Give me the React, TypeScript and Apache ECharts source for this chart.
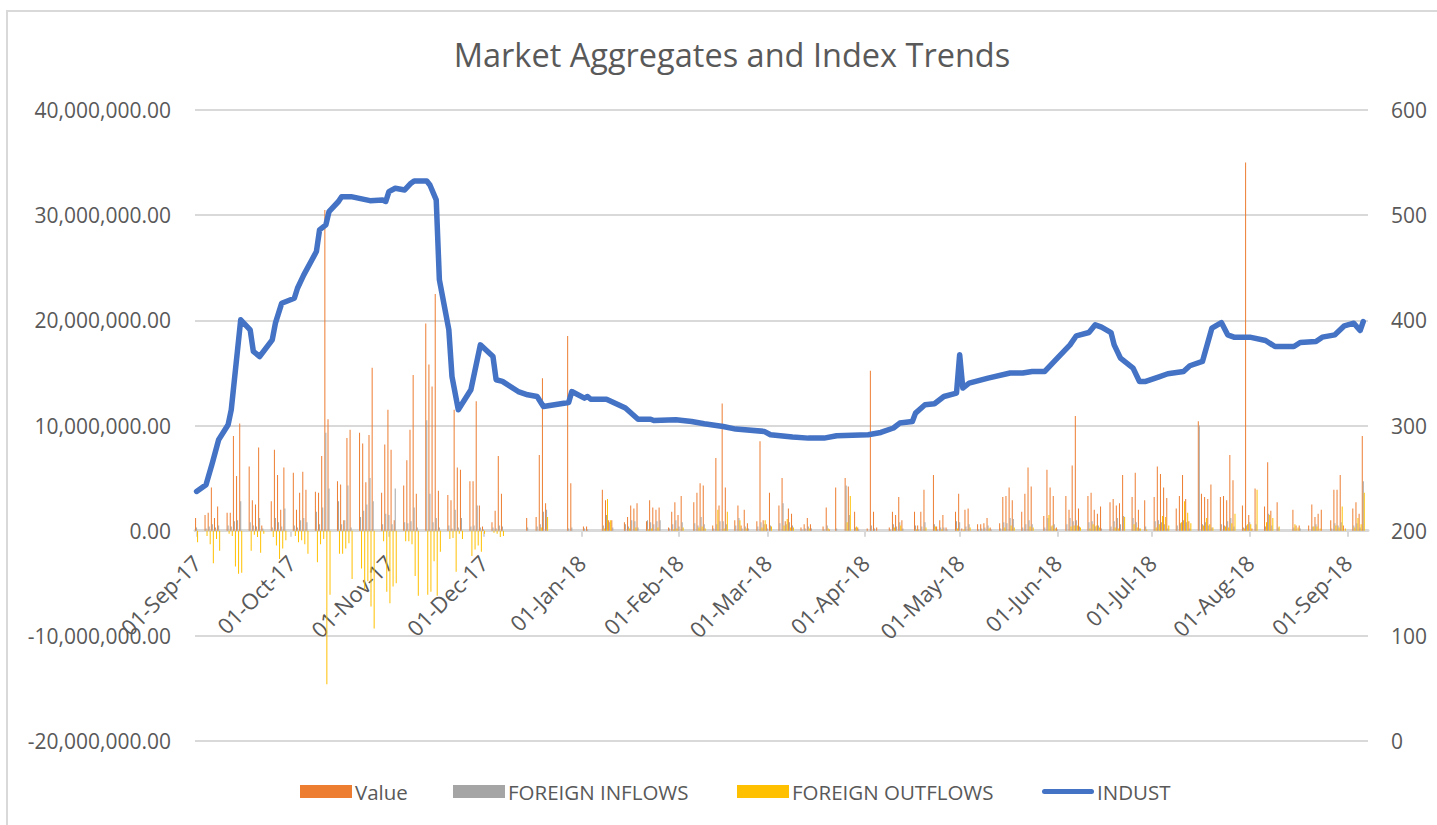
import React, { useEffect, useRef } from "react";
import * as echarts from "echarts";

const FONT = "'Open Sans', 'Noto Sans', sans-serif";
const TEXT = "#595959";
const GRID = "#D9D9D9";

const START = Date.UTC(2017, 8, 1);
const DAY_MS = 86400000;
const DAY_COUNT = 372; // 01-Sep-17 .. 07-Sep-18
const MON = ["Jan", "Feb", "Mar", "Apr", "May", "Jun", "Jul", "Aug", "Sep", "Oct", "Nov", "Dec"];

// Left axis ticks and right axis ticks
const leftTicks = [-20000000, -10000000, 0, 10000000, 20000000, 30000000, 40000000];
const rightTicks = [0, 100, 200, 300, 400, 500, 600];

// Legend entries
const legendNames = ["Value", "FOREIGN INFLOWS", "FOREIGN OUTFLOWS", "INDUST"];

// Bar values in millions, one entry per weekday of each month (Sep-17 .. Sep-18)
const valueByMonth: number[][] = [
  [1.2, 1.5, 1.7, 4.1, 1.2, 2.3, 1.7, 1.7, 9.0, 5.2, 10.2, 6.1, 2.9, 2.5, 7.9, 0.5, 2.8, 7.7, 5.3, 2.0, 6.0],
  [5.5, 2.0, 3.6, 5.6, 3.9, 3.7, 3.6, 7.1, 30.5, 10.6, 4.7, 4.4, 1.0, 8.8, 9.6, 9.3, 8.3, 4.6, 9.1, 15.5, 3.6, 8.2],
  [11.5, 7.7, 1.0, 4.3, 6.7, 9.6, 14.8, 3.5, 19.7, 15.8, 13.7, 22.5, 3.8, 3.4, 2.9, 11.5, 6.0, 5.8, 4.7, 4.7, 12.3, 2.4],
  [0.4, 0.8, 1.9, 7.1, 3.5, 0, 0, 0, 0, 0, 1.2, 1.3, 7.2, 14.5, 2.6, 0, 0, 0, 0, 18.5, 4.5],
  [0, 0.4, 0.4, 0, 0, 3.9, 2.9, 1.0, 1.0, 0, 0.8, 1.3, 2.4, 2.1, 2.6, 0.9, 2.9, 2.2, 2.0, 2.2, 0.3, 1.8, 2.7],
  [1.5, 3.3, 0, 2.7, 3.6, 4.5, 4.3, 0.5, 6.9, 2.4, 12.1, 4.1, 1.0, 2.4, 0.5, 2.0, 0.7, 0.9, 8.5, 1.0],
  [0.6, 3.6, 2.4, 5.0, 0.9, 2.1, 1.6, 0.3, 0.6, 1.2, 0.6, 0, 0.4, 2.2, 0.1, 0, 4.1, 5.0, 4.2, 0, 1.8, 0.3],
  [0.2, 15.2, 1.8, 0.3, 0, 0.3, 1.8, 1.5, 3.2, 1.0, 0, 1.8, 0.5, 1.8, 3.9, 5.3, 0.4, 1.0, 1.5, 0.3, 1.8],
  [3.5, 0.2, 2.0, 2.1, 0.6, 0.6, 0.7, 1.2, 0.3, 0.7, 3.2, 3.3, 4.1, 2.9, 1.8, 3.5, 6.0, 4.2, 0, 1.4, 5.8, 4.1, 3.3],
  [0.3, 3.3, 2.0, 6.2, 10.9, 2.1, 3.3, 3.6, 2.0, 1.6, 2.3, 2.7, 3.0, 2.4, 2.6, 5.3, 3.2, 5.5, 2.0, 0, 2.9],
  [3.2, 6.1, 5.4, 4.1, 3.1, 2.1, 3.3, 5.3, 3.0, 0.9, 10.4, 3.5, 3.2, 3.0, 4.4, 3.2, 3.3, 2.9, 7.2, 4.8, 2.4, 35.0],
  [1.5, 0.2, 4.0, 2.3, 6.5, 1.9, 0, 2.7, 0, 0, 2.0, 0.5, 0.5, 0.5, 2.5, 1.3, 1.6, 2.0, 1.0, 3.9, 3.9, 5.3, 0.5],
  [2.1, 2.7, 1.6, 9.0],
];

const inflowsByMonth: number[][] = [
  [0.3, 0.2, 0.4, 0.6, 0.3, 0.5, 0.5, 0.4, 0.9, 1.0, 2.8, 0.8, 0.5, 0.4, 1.2, 0.2, 0.3, 1.2, 0.8, 0.4, 2.1],
  [0.5, 0.3, 1.0, 1.2, 0.8, 1.8, 0.6, 2.2, 9.3, 4.0, 2.8, 0.6, 1.0, 4.3, 0.3, 1.3, 1.9, 2.5, 5.0, 2.8, 0.6, 1.6],
  [1.5, 0.6, 4.0, 0.8, 0.7, 0.9, 2.2, 0.3, 10.5, 3.5, 0.8, 1.2, 0.3, 0.5, 0.2, 2.0, 0.3, 1.2, 0.4, 0.5, 2.4, 0.3],
  [0.1, 0.3, 0.2, 0.5, 0.4, 0, 0, 0, 0, 0, 0.3, 0.4, 0.6, 1.8, 2.0, 0, 0, 0, 0, 0.2, 0.3],
  [0, 0.2, 0.1, 0, 0, 0.5, 1.5, 0.8, 0.3, 0, 0.6, 0.4, 1.0, 0.9, 0.3, 1.0, 0.8, 0.6, 0.9, 1.0, 0.2, 0.6, 1.0],
  [0.4, 0.8, 0, 0.7, 0.5, 1.3, 0.6, 0.2, 0.6, 0.9, 0.9, 0.6, 0.5, 1.2, 0.2, 0.4, 0.2, 0.4, 0.8, 0.6],
  [0.2, 0.5, 0.7, 2.6, 0.6, 0.8, 0.5, 0.1, 0.2, 0.4, 0.2, 0, 0.1, 0.5, 0, 0, 0.2, 4.3, 1.5, 0, 0.3, 0.1],
  [0, 0.5, 0.2, 0, 0, 0.1, 0.6, 0.4, 0.8, 0.2, 0, 0.5, 0.1, 0.4, 0.8, 0.6, 0.1, 0.3, 0.3, 0.1, 0.9],
  [0.8, 0, 0.4, 0.6, 0.1, 0.2, 0.3, 0.5, 0.1, 0.2, 0.8, 0.7, 1.2, 1.1, 0.3, 0.6, 1.0, 0.6, 0, 0.3, 1.2, 0.4, 0.6],
  [0.1, 0.6, 1.2, 0.9, 1.0, 0.4, 0.8, 0.9, 0.4, 0.5, 0.2, 0.4, 0.9, 1.2, 0.6, 1.4, 1.2, 0.8, 0.2, 0, 0.4],
  [0.9, 1.0, 0.8, 0.6, 0.2, 0.5, 0.7, 1.0, 0.8, 0.2, 10.0, 0.6, 0.8, 0.5, 0.3, 0.6, 0.5, 0.9, 1.2, 0.4, 0.3, 0.5],
  [0.8, 0, 0.6, 0.4, 1.6, 0.5, 0, 0.3, 0, 0, 0.3, 0, 0.2, 0, 0.4, 0.6, 0, 0, 0.2, 0.7, 0.5, 0.8, 0],
  [0.5, 0.7, 0.3, 4.7],
];

const outflowsByMonth: number[][] = [
  [-1.1, -0.5, -1.3, -3.1, -0.8, -1.9, -0.3, -0.5, -3.4, -4.1, -4.0, -1.9, -0.4, -0.6, -2.1, -0.3, -0.6, -1.4, -2.7, -1.7, -0.9],
  [-0.5, -1.1, -0.9, -1.3, -2.2, -3.0, -1.3, -0.8, -14.6, -6.1, -2.2, -2.2, -1.7, -1.2, -4.6, -3.6, -5.6, -4.8, -7.2, -9.3, -1.0, -5.8],
  [-6.9, -5.3, -5.0, -1.0, -1.0, -1.3, -4.3, -6.2, -6.1, -5.8, -2.9, -6.2, -2.0, -0.8, -0.7, -3.9, -0.3, -0.8, -2.4, -1.8, -1.4, -2.0],
  [-0.3, -0.2, -0.3, -0.6, -0.5, 0, 0, 0, 0, 0, 0, 0, 0.3, 0, 1.3, 0, 0, 0, 0, 0, 0],
  [0, 0, 0, 0, 0, 0.2, 3.0, 1.0, 0, 0, 0, 0.2, 0, 0.3, 0, 0.1, 0.2, 0, 0.3, 0, 0, 0.1, 0.2],
  [0, 0.3, 0, 0, 0.3, 0.4, 0.2, 0, 2.0, 0, 0.2, 1.8, 0, 1.0, 0, 0.2, 0, 0, 0.3, 1.0],
  [0, 0.4, 0, 0.5, 1.1, 0.3, 0.3, 0, 0, 0.2, 0, 0, 0, 0.2, 0, 0, 0, 0.8, 3.3, 0, 0.4, 0],
  [0, 0, 0, 0, 0, 0, 0.3, 0, 0.5, 0, 0, 0.1, 0, 0, 0.3, 0.4, 0, 0.1, 0, 0, 0.2],
  [0, 0.1, 0, 0.3, 0, 0, 0, 0.2, 0, 0, 0.3, 0, 0.5, 0.3, 0, 0, 0.4, 0.3, 0, 0, 1.5, 0.5, 0.2],
  [0, 0, 0.4, 0.5, 0.5, 0.3, 0.2, 0.6, 0.5, 0.3, 0, 0, 0.3, 0.2, 0, 1.3, 0.6, 0.3, 0.2, 0, 0.1],
  [0.3, 0.6, 1.4, 1.3, 0.5, 0, 0.8, 2.8, 1.7, 0.7, 0, 0.5, 1.2, 0.6, 0.3, 0, 0.4, 0.3, 0.7, 1.6, 0.2, 0.6],
  [0.6, 0, 3.9, 0.8, 1.5, 1.2, 0, 0.4, 0, 0, 0.6, 0.3, 0, 0, 0.4, 0.4, 0.2, 0, 0, 0.5, 0.3, 2.3, 0.2],
  [0.3, 1.2, 0.6, 3.6],
];

// INDUST index (right axis), read at the line's vertices
const industDates = [
  "2017-09-01", "2017-09-04", "2017-09-06", "2017-09-08", "2017-09-11", "2017-09-12", "2017-09-15",
  "2017-09-18", "2017-09-19", "2017-09-21", "2017-09-25", "2017-09-26", "2017-09-28", "2017-10-02",
  "2017-10-03", "2017-10-05", "2017-10-09", "2017-10-10", "2017-10-12", "2017-10-13", "2017-10-16",
  "2017-10-17", "2017-10-20", "2017-10-26", "2017-10-30", "2017-10-31", "2017-11-01", "2017-11-03",
  "2017-11-06", "2017-11-08", "2017-11-09", "2017-11-13", "2017-11-14", "2017-11-16", "2017-11-17",
  "2017-11-20", "2017-11-21", "2017-11-23", "2017-11-27", "2017-11-30", "2017-12-04", "2017-12-05",
  "2017-12-07", "2017-12-12", "2017-12-15", "2017-12-18", "2017-12-20", "2017-12-28", "2017-12-29",
  "2018-01-02", "2018-01-03", "2018-01-04", "2018-01-09", "2018-01-15", "2018-01-19", "2018-01-23",
  "2018-01-24", "2018-01-31", "2018-02-05", "2018-02-09", "2018-02-15", "2018-02-19", "2018-02-28",
  "2018-03-02", "2018-03-09", "2018-03-14", "2018-03-19", "2018-03-23", "2018-04-02", "2018-04-06",
  "2018-04-10", "2018-04-12", "2018-04-16", "2018-04-17", "2018-04-20", "2018-04-23", "2018-04-26",
  "2018-04-30", "2018-05-01", "2018-05-02", "2018-05-04", "2018-05-10", "2018-05-17", "2018-05-21",
  "2018-05-24", "2018-05-28", "2018-05-31", "2018-06-05", "2018-06-07", "2018-06-11", "2018-06-13",
  "2018-06-15", "2018-06-18", "2018-06-19", "2018-06-21", "2018-06-25", "2018-06-27", "2018-06-29",
  "2018-07-03", "2018-07-06", "2018-07-11", "2018-07-13", "2018-07-17", "2018-07-20", "2018-07-23",
  "2018-07-25", "2018-07-27", "2018-08-01", "2018-08-06", "2018-08-09", "2018-08-15", "2018-08-17",
  "2018-08-22", "2018-08-24", "2018-08-28", "2018-08-31", "2018-09-03", "2018-09-05", "2018-09-06",
];
const industValues = [
  237.3, 243.7, 264.3, 286.5, 300.7, 315.0, 400.5,
  391.0, 370.4, 365.6, 381.5, 397.3, 416.3, 421.0,
  430.5, 443.2, 465.4, 486.0, 490.7, 503.4, 513.0,
  517.6, 517.6, 513.8, 514.5, 513.0, 522.4, 525.6,
  524.0, 530.4, 532.5, 532.5, 528.7, 514.5, 438.5,
  391.0, 346.6, 315.0, 334.0, 376.7, 365.6, 343.5,
  341.9, 332.3, 329.2, 327.6, 318.1, 321.9, 332.3,
  326.0, 327.6, 325.0, 325.0, 316.6, 306.0, 306.0,
  304.8, 305.5, 303.8, 301.7, 299.1, 296.6, 294.4,
  291.2, 289.0, 288.0, 288.0, 290.3, 291.2, 293.4,
  297.6, 302.3, 303.8, 311.8, 319.7, 320.7, 327.6,
  330.8, 367.2, 335.6, 340.3, 345.1, 349.9, 349.9,
  351.4, 351.4, 360.9, 376.7, 385.3, 388.4, 395.7,
  393.5, 388.4, 376.7, 364.1, 354.6, 341.9, 341.9,
  346.0, 349.2, 351.4, 356.8, 360.9, 392.6, 397.9,
  386.2, 384.0, 384.0, 380.8, 375.1, 375.1, 378.9,
  379.9, 384.0, 386.2, 394.8, 397.3, 390.3, 398.9,
];

function fmtDay(t: number): string {
  const d = new Date(t);
  const dd = String(d.getUTCDate()).padStart(2, "0");
  const yy = String(d.getUTCFullYear() % 100).padStart(2, "0");
  return `${dd}-${MON[d.getUTCMonth()]}-${yy}`;
}

const categories: string[] = Array.from({ length: DAY_COUNT }, (_, i) => fmtDay(START + i * DAY_MS));

function buildBars(src: number[][]): (number | null)[] {
  const out: (number | null)[] = new Array(DAY_COUNT).fill(null);
  const counters = src.map(() => 0);
  for (let i = 0; i < DAY_COUNT; i++) {
    const d = new Date(START + i * DAY_MS);
    const wd = d.getUTCDay();
    if (wd === 0 || wd === 6) continue;
    const mi = (d.getUTCFullYear() - 2017) * 12 + d.getUTCMonth() - 8;
    const arr = src[mi];
    if (!arr) continue;
    const k = counters[mi]++;
    if (k < arr.length) out[i] = arr[k] * 1e6;
  }
  return out;
}

function buildLine(): (number | null)[] {
  const out: (number | null)[] = new Array(DAY_COUNT).fill(null);
  industDates.forEach((s, j) => {
    const [y, m, dd] = s.split("-").map(Number);
    const idx = Math.round((Date.UTC(y, m - 1, dd) - START) / DAY_MS);
    if (idx >= 0 && idx < DAY_COUNT) out[idx] = industValues[j];
  });
  return out;
}

const isMonthStart = (_i: number, v: string) => typeof v === "string" && v.startsWith("01-");

const GRID_TOP = 110;
const GRID_BOTTOM_Y = 741;
const ZERO_OFFSET =
  ((GRID_BOTTOM_Y - GRID_TOP) * (0 - leftTicks[0])) / (leftTicks[leftTicks.length - 1] - leftTicks[0]);

const LINE_ICON =
  "path://M2.5,0 L49.5,0 A2.5,2.5 0 0 1 49.5,5 L2.5,5 A2.5,2.5 0 0 1 2.5,0 Z";

const legendLefts = [300, 453, 737, 1042];
const legendIcons = ["rect", "rect", "rect", LINE_ICON];

export default function App() {
  const ref = useRef<HTMLDivElement>(null);

  useEffect(() => {
    if (!ref.current) return;
    const chart = echarts.init(ref.current, null, { renderer: "svg" });
    const option: any = {
      animation: false,
      backgroundColor: "#ffffff",
      textStyle: { fontFamily: FONT },
      title: {
        text: "Market Aggregates and Index Trends",
        left: 727,
        textAlign: "center",
        top: 33,
        textStyle: { fontFamily: FONT, fontSize: 32.5, fontWeight: "normal", color: TEXT },
      },
      graphic: [
        {
          type: "rect",
          shape: { x: 7, y: 11, width: 1460, height: 840 },
          style: { fill: "none", stroke: GRID, lineWidth: 2 },
          silent: true,
          z: -1,
        },
      ],
      legend: legendNames.map((name, i) => ({
        left: legendLefts[i],
        top: 781,
        itemWidth: 52,
        itemHeight: 13,
        itemGap: 0,
        padding: 0,
        symbolKeepAspect: true,
        textStyle: { fontFamily: FONT, fontSize: 20.5, color: TEXT, padding: [0, 0, 0, -2] },
        data: [{ name, icon: legendIcons[i] }],
      })),
      grid: {
        left: 195,
        right: 69,
        top: GRID_TOP,
        bottom: 825 - GRID_BOTTOM_Y,
        containLabel: false,
        outerBoundsMode: "none",
      },
      xAxis: {
        type: "category",
        data: categories,
        boundaryGap: true,
        position: "bottom",
        offset: -ZERO_OFFSET,
        axisLine: { onZero: false, lineStyle: { color: GRID, width: 3 } },
        axisTick: {
          show: true,
          alignWithLabel: true,
          interval: isMonthStart,
          length: 6,
          lineStyle: { color: GRID, width: 2 },
        },
        axisLabel: {
          interval: isMonthStart,
          rotate: 45,
          margin: 28,
          color: TEXT,
          fontFamily: FONT,
          fontSize: 22,
        },
        splitLine: { show: false },
      },
      yAxis: [
        {
          type: "value",
          min: leftTicks[0],
          max: leftTicks[leftTicks.length - 1],
          interval: leftTicks[1] - leftTicks[0],
          axisLine: { show: false },
          axisTick: { show: false },
          axisLabel: {
            margin: 24,
            color: TEXT,
            fontFamily: FONT,
            fontSize: 21,
            formatter: (v: number) =>
              v.toLocaleString("en-US", { minimumFractionDigits: 2, maximumFractionDigits: 2 }),
          },
          splitLine: { show: true, lineStyle: { color: GRID, width: 2 } },
        },
        {
          type: "value",
          min: rightTicks[0],
          max: rightTicks[rightTicks.length - 1],
          interval: rightTicks[1] - rightTicks[0],
          position: "right",
          axisLine: { show: false },
          axisTick: { show: false },
          axisLabel: { margin: 23, color: TEXT, fontFamily: FONT, fontSize: 21 },
          splitLine: { show: false },
        },
      ],
      series: [
        {
          name: "Value",
          type: "bar",
          yAxisIndex: 0,
          data: buildBars(valueByMonth),
          barWidth: 1,
          barGap: "0%",
          itemStyle: { color: "#ED7D31" },
        },
        {
          name: "FOREIGN INFLOWS",
          type: "bar",
          yAxisIndex: 0,
          data: buildBars(inflowsByMonth),
          barWidth: 1,
          barGap: "0%",
          itemStyle: { color: "#A5A5A5" },
        },
        {
          name: "FOREIGN OUTFLOWS",
          type: "bar",
          yAxisIndex: 0,
          data: buildBars(outflowsByMonth),
          barWidth: 1,
          barGap: "0%",
          itemStyle: { color: "#FFC000" },
        },
        {
          name: "INDUST",
          type: "line",
          yAxisIndex: 1,
          data: buildLine(),
          connectNulls: true,
          showSymbol: false,
          symbol: "none",
          z: 5,
          lineStyle: { color: "#4472C4", width: 5.5, cap: "round", join: "round" },
          itemStyle: { color: "#4472C4" },
        },
      ],
    };
    chart.setOption(option);
    return () => chart.dispose();
  }, []);

  return (
    <div
      ref={ref}
      style={{ position: "fixed", left: 0, top: 0, width: 1437, height: 825, background: "#fff" }}
    />
  );
}
